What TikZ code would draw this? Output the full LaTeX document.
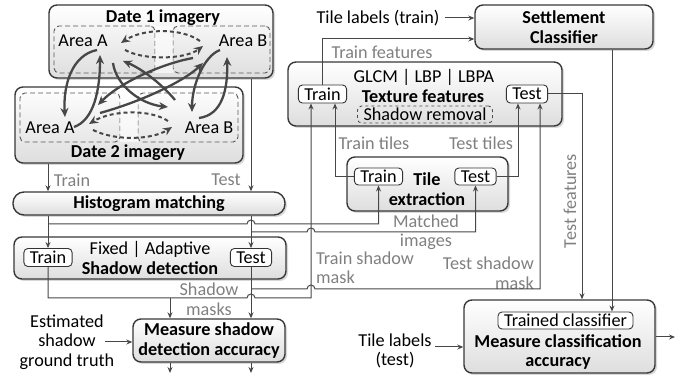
\documentclass[tikz,border=0pt]{standalone}
\usepackage{fontspec}
\setmainfont{Carlito}
\usetikzlibrary{arrows.meta,shadows,calc}
\begin{document}
\begin{tikzpicture}[x=1pt,y=-1pt,
  every node/.style={inner sep=0pt, font=\fontsize{18.2}{19.5}\selectfont},
  bt/.style={font=\fontsize{18.2}{19.5}\selectfont\bfseries},
  lbl/.style={text=black!50},
  box/.style={draw=black!78, line width=1.4pt, rounded corners=8pt, top color=white, bottom color=black!13,
    drop shadow={shadow xshift=2pt,shadow yshift=-2pt,fill=black!30}},
  ibox/.style={draw=black!80, line width=0.9pt, rounded corners=4pt, fill=white, inner xsep=6pt, minimum height=18pt},
  dashbox/.style={draw=black!70, line width=0.9pt, dashed, rounded corners=4pt, inner xsep=6pt, minimum height=17pt},
  dbox/.style={draw=black!65, line width=0.9pt, dash pattern=on 5pt off 3pt, rounded corners=5pt},
  conn/.style={draw=black!72, line width=1pt, -{Stealth[length=6pt,width=5pt]}},
  carr/.style={draw=black!72, line width=2.3pt, -{Stealth[length=9pt,width=8pt]}},
  darr/.style={draw=black!72, line width=2pt, dash pattern=on 4pt off 3pt, -{Stealth[length=9pt,width=8pt]}},
]
\useasboundingbox (0,0) rectangle (686,379);

% ---- imagery boxes
\node[box, minimum width=224pt, minimum height=73pt] (d1) at (161,41.5) {};
\node[dbox, minimum width=101pt, minimum height=47pt] (d1a) at (104.5,49.5) {};
\node[dbox, minimum width=97pt, minimum height=47pt] (d1b) at (221.5,49.5) {};
\fill[white, opacity=0.6] (d1a.north east) rectangle (d1b.south west);
\node[bt] (t1) at (163,18) {Date 1 imagery};
\node (a1) at (83,41) {Area A};
\node (b1) at (243,41) {Area B};

\node[box, minimum width=228pt, minimum height=76pt] (d2) at (129,125) {};
\node[dbox, minimum width=100pt, minimum height=49pt] (d2a) at (70,117.5) {};
\node[dbox, minimum width=100pt, minimum height=49pt] (d2b) at (188,117.5) {};
\fill[white, opacity=0.6] (d2a.north east) rectangle (d2b.south west);
\node[bt] (t2) at (128,153) {Date 2 imagery};
\node (a2) at (50,128) {Area A};
\node (b2) at (209,128) {Area B};

% solid arrows between areas
\draw[carr] (97,50) .. controls (72,55) and (63,85) .. (65,117);
\draw[carr] (74,127) .. controls (94,120) and (100,90) .. (100,55);
\draw[carr] (220,50) .. controls (204,56) and (192,85) .. (192,112);
\draw[carr] (199,118) .. controls (222,115) and (228,90) .. (227,57);
\draw[carr] (113,63) .. controls (116,85) and (140,104) .. (168,107);
\draw[carr] (175,100) .. controls (160,82) and (140,68) .. (123,61);
\draw[carr] (193,58) .. controls (160,64) and (118,84) .. (98,105);
\draw[carr] (100,113) .. controls (140,102) and (183,82) .. (203,63);
% dashed loops
\draw[darr] (200,41) .. controls (180,27) and (142,29) .. (121,43);
\draw[darr] (125,50) .. controls (145,61) and (186,59) .. (203,46);
\draw[darr] (168,121) .. controls (150,109) and (112,110) .. (89,124);
\draw[darr] (93,130) .. controls (115,141) and (152,140) .. (172,127);

% ---- left column boxes
\node[box, rounded corners=11pt, minimum width=272pt, minimum height=23pt, bt] (hist) at (149,203.5) {Histogram matching};
\node[box, minimum width=272pt, minimum height=42pt, align=center] (shad) at (150,258) {Fixed | Adaptive\\\textbf{Shadow detection}};
\node[ibox] (shtr) at (48,257.5) {Train};
\node[ibox] (shte) at (251,257.5) {Test};
\node[box, minimum width=152pt, minimum height=43pt, align=center, bt] (msa) at (209,340.5) {Measure shadow\\detection accuracy};

% ---- right column boxes
\node[box, minimum width=178pt, minimum height=44pt, align=center, bt] (set) at (564,27) {Settlement\\Classifier};
\node[box, minimum width=274pt, minimum height=64pt] (tex) at (425,94) {};
\node (tg) at (424,77) {GLCM | LBP | LBPA};
\node[bt] (tt) at (423,96) {Texture features};
\node[dashbox] (sr) at (425,114.5) {Shadow removal};
\node[ibox] (textr) at (322.5,94) {Train};
\node[ibox] (texte) at (527,94) {Test};

\node[box, minimum width=161pt, minimum height=54pt] (tile) at (427.5,184) {};
\node[bt, align=center] (tltx) at (427,189) {Tile\\extraction};
\node[ibox, minimum height=17pt] (tltr) at (378.5,176.5) {Train};
\node[ibox, minimum height=17pt] (tlte) at (475.5,176.5) {Test};

\node[box, minimum width=191pt, minimum height=73pt] (mca) at (559.5,336.5) {};
\node[ibox, minimum height=17pt] (tc) at (565.5,320.5) {Trained classifier};
\node[bt, align=center] (mct) at (558,352) {Measure classification\\accuracy};

% ---- helper coordinates
\coordinate (xTr) at (48,0);
\coordinate (xTe) at (251,0);
\coordinate (xS1) at (311,0);
\coordinate (xS2) at (335,0);
\coordinate (xS3) at (518,0);
\coordinate (xS4) at (540,0);
\coordinate (xMs) at (170,0);
\coordinate (xTf) at (582,0);
\coordinate (xSc) at (612,0);
\coordinate (yM1) at (0,224);
\coordinate (yM2) at (0,232);
\coordinate (yS1) at (0,298);
\coordinate (yS2) at (0,289);
\coordinate (yTf) at (0,39);
\coordinate (out) at (675,337);
\coordinate (o1) at (170,373);
\coordinate (o2) at (251,373);
\coordinate (est0) at (105,342);
\coordinate (tl0) at (435,347);

% ---- texts
\node[lbl] (ltr) at (72,180) {Train};
\node[lbl] (lte) at (226,180) {Test};
\node[lbl, align=center] (lsm) at (209,299) {Shadow\\masks};
\node[lbl, align=center] (lmi) at (426,232) {Matched\\images};
\node[lbl, align=left, anchor=west] (ltsm) at (316,268) {Train shadow\\mask};
\node[lbl, align=right, anchor=east] (ltesm) at (534,273) {Test shadow\\mask};
\node[lbl] (ltf) at (382,52) {Train features};
\node[lbl] (ltt) at (374,143) {Train tiles};
\node[lbl] (ltet) at (481,143) {Test tiles};
\node[lbl, rotate=90] (ltef) at (570,201) {Test features};
\node (tlt2) at (378,18) {Tile labels (train)};
\node[align=center] (est) at (67,342) {Estimated\\shadow\\ground truth};
\node[align=center] (tlte2) at (395,351) {Tile labels\\(test)};

% ---- connectors
\draw[conn] (d2.south -| xTr) -- (hist.north -| xTr);
\draw[conn] (d1.south -| xTe) -- (hist.north -| xTe);
\draw[conn] (hist.south -| xTr) -- (shtr.north);
\draw[conn] (hist.south -| xTe) -- (shte.north);
\draw[conn] (xTr |- yM1) -- (247,224) arc[start angle=180,end angle=360,radius=4] -| (tltr.south);
\draw[conn] (xTe |- yM2) -- (307,232) arc[start angle=180,end angle=360,radius=4] -| (tlte.south);
\draw[conn] (shtr.south) |- (247,298) arc[start angle=180,end angle=360,radius=4] -- (xS1 |- yS1) -- (textr.south -| xS1);
\draw[conn] (xMs |- yS1) -- (msa.north -| xMs);
\draw[conn] (shte.south) -- (msa.north -| xTe);
\draw[conn] (xTe |- yS2) -- (307,289) arc[start angle=180,end angle=360,radius=4] -- (xS4 |- yS2) -- (texte.south -| xS4);
\draw[conn] (tltr.west) -| (textr.south -| xS2);
\draw[conn] (tlte.east) -| (texte.south -| xS3);
\draw[conn] (textr.north) |- (set.west |- yTf);
\draw[conn] ($(tlt2.east)+(5,0)$) -- (set.west |- tlt2.east);
\draw[conn] (texte.east) -| (mca.north -| xTf);
\draw[conn] (set.south -| xSc) -- (tc.north -| xSc);
\draw[conn] (mca.east |- out) -- (out);
\draw[conn] (tl0) -- (mca.west |- tl0);
\draw[conn] (est0) -- (msa.west |- est0);
\draw[conn] (msa.south -| xMs) -- (o1);
\draw[conn] (msa.south -| xTe) -- (o2);
\end{tikzpicture}
\end{document}
